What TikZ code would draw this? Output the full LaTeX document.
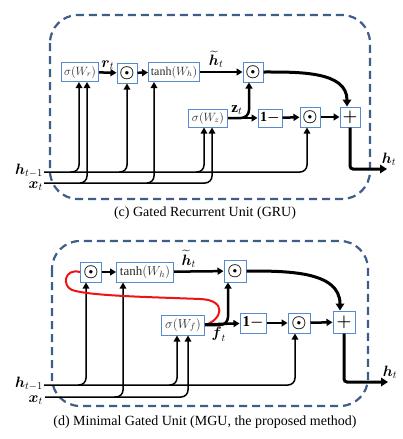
\RequirePackage{fix-cm}
\documentclass[tikz,border=0pt]{standalone}
\usepackage{amsmath}
\usepackage{fontspec}
\setmainfont{Liberation Serif}
\usetikzlibrary{arrows.meta}
\definecolor{frameblue}{RGB}{62,94,138}
\definecolor{gateblue}{RGB}{88,138,206}
\definecolor{gatetext}{RGB}{45,45,45}
\definecolor{loopred}{RGB}{238,20,20}
\tikzset{
  cell/.style={draw=frameblue, line width=2.2pt, dash pattern=on 8pt off 5pt, rounded corners=28pt},
  gate/.style={draw=gateblue, line width=1pt, fill=white, inner sep=0pt, minimum height=19pt, text=gatetext, font=\fontsize{12}{14}\selectfont},
  opgate/.style={gate, minimum width=20pt, minimum height=20pt, text=black, font=\fontsize{17}{19}\selectfont},
  wire/.style={line width=1.5pt, rounded corners=7pt, -{Triangle[length=6pt,width=6.5pt]}},
  flow/.style={line width=2.5pt, -{Triangle[length=6pt,width=7pt]}},
  bigflow/.style={line width=3pt, -{Triangle[length=7pt,width=8.5pt]}},
  redloop/.style={draw=loopred, line width=2pt},
  lbl/.style={font=\fontsize{15}{17}\selectfont, inner sep=0pt},
  caption/.style={font=\fontsize{14}{16}\selectfont}
}
\begin{document}
\begin{tikzpicture}[x=1pt,y=-1pt]
\useasboundingbox (0,0) rectangle (403,439);

\draw[cell] (50,15) rectangle (370,199);
\node[gate, minimum width=37pt] (sr) at (80,72) {$\sigma(W_r)$};
\node[opgate] (mr) at (127,73) {$\boldsymbol{\odot}$};
\node[gate, minimum width=51pt] (hc) at (174,72) {$\tanh(W_h)$};
\node[opgate] (mz) at (253,72) {$\boldsymbol{\odot}$};
\node[gate, minimum width=39pt, minimum height=18pt] (sz) at (208,118) {$\sigma(W_z)$};
\node[opgate, minimum width=24pt, minimum height=18pt, font=\fontsize{14}{16}\selectfont] (oz) at (270,118) {$\mathbf{1}\boldsymbol{-}$};
\node[opgate] (mo) at (310,117) {$\boldsymbol{\odot}$};
\node[opgate] (ad) at (350,117) {$\boldsymbol{+}$};
\coordinate (hs) at (44,172);
\coordinate (xs) at (44,183);
\coordinate (ho) at (387,169);
\node[lbl, anchor=base east] (hlab) at (43,174) {$\boldsymbol{h}_{t-1}$};
\node[lbl, anchor=base east] (xlab) at (43,188) {$\boldsymbol{x}_t$};

\draw[wire] (hs) -| ([xshift=-3pt]mo.south);
\draw[wire] (xs) -| ([xshift=4pt]sz.south);
\draw[wire] ([xshift=26pt]hs) -| ([xshift=-1pt]sr.south);
\draw[wire] ([xshift=36pt]xs) -| ([xshift=7pt]sr.south);
\draw[wire] ([xshift=75pt]hs) -| (mr.south);
\draw[wire] ([xshift=103pt]xs) -| ([xshift=-20pt]hc.south);
\draw[wire] ([xshift=152pt]hs) -| ([xshift=-4pt]sz.south);

\draw[flow] (sr) -- (mr) node[midway, above=2pt, lbl] {$\boldsymbol{r}_t$};
\draw[flow] (mr) -- (hc);
\draw[flow] (hc) -- (mz) node[pos=0.38, above=3pt, lbl] {$\widetilde{\boldsymbol{h}}_t$};
\draw[flow] (sz) -- (oz) node[pos=0.3, above=2pt, lbl] {$\mathbf{z}_t$};
\draw[flow, rounded corners=8pt] (sz.east) -| ([xshift=-4pt]mz.south);
\draw[flow] (oz) -- (mo);
\draw[flow] (mo) -- (ad);
\draw[bigflow] (mz.east) to[out=0, in=90] ([xshift=-3pt]ad.north);
\draw[bigflow, rounded corners=3pt] (ad.south) |- (ho) node[above=2pt, lbl, xshift=2pt] {$\boldsymbol{h}_t$};
\node[caption] (capc) at (205,213) {(c) Gated Recurrent Unit (GRU)};

\draw[cell] (52,241) rectangle (368,406);
\node[opgate, minimum width=21pt] (mf) at (91,272) {$\boldsymbol{\odot}$};
\node[gate, minimum width=57pt, minimum height=20pt, font=\fontsize{13}{15}\selectfont] (hb) at (145,272) {$\tanh(W_h)$};
\node[opgate, minimum width=22pt, minimum height=22pt] (mg) at (235,271) {$\boldsymbol{\odot}$};
\node[gate, minimum width=43pt, minimum height=20pt, font=\fontsize{13}{15}\selectfont] (sf) at (183,325) {$\sigma(W_f)$};
\node[opgate, minimum width=26pt, font=\fontsize{15}{17}\selectfont] (of) at (253,323) {$\mathbf{1}\boldsymbol{-}$};
\node[opgate, minimum width=22pt] (mp) at (299,323) {$\boldsymbol{\odot}$};
\node[opgate, minimum width=22pt, minimum height=22pt] (ae) at (344,322) {$\boldsymbol{+}$};
\coordinate (hs2) at (44,385);
\coordinate (xs2) at (45,397);
\coordinate (ho2) at (388,382);
\node[lbl, anchor=base east] (hlab2) at (43,387) {$\boldsymbol{h}_{t-1}$};
\node[lbl, anchor=base east] (xlab2) at (43,402) {$\boldsymbol{x}_t$};

\draw[wire] (hs2) -| ([xshift=-4pt]mp.south);
\draw[wire] (xs2) -| ([xshift=5pt]sf.south);
\draw[wire] ([xshift=34pt]hs2) -| ([xshift=-5pt]mf.south);
\draw[wire] ([xshift=69pt]xs2) -| ([xshift=-22pt]hb.south);
\draw[wire] ([xshift=125pt]hs2) -| ([xshift=-6pt]sf.south);

\draw[redloop] (sf.east) .. controls (222,320) and (228,300) .. (200,299)
  .. controls (150,297) and (90,296) .. (72,290)
  .. controls (62,286) and (64,268) .. (mf.west);
\draw[flow] (mf) -- (hb);
\draw[flow] (hb) -- (mg) node[pos=0.3, above=3pt, lbl] {$\widetilde{\boldsymbol{h}}_t$};
\draw[flow] (sf) -- (of) node[pos=0.4, below=2pt, lbl] {$\boldsymbol{f}_t$};
\draw[flow, rounded corners=8pt] (sf.east) -| ([xshift=-7pt]mg.south);
\draw[flow] (of) -- (mp);
\draw[flow] (mp) -- (ae);
\draw[bigflow] (mg.east) to[out=0, in=90] ([xshift=-4pt]ae.north);
\draw[bigflow, rounded corners=3pt] (ae.south) |- (ho2) node[above=2pt, lbl, xshift=2pt] {$\boldsymbol{h}_t$};
\node[caption] (capd) at (205,422) {(d) Minimal Gated Unit (MGU, the proposed method)};
\end{tikzpicture}
\end{document}
